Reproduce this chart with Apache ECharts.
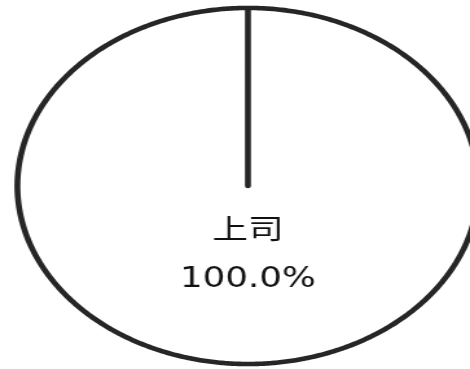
<!DOCTYPE html>
<html>
<head>
<meta charset="utf-8">
<script src="https://cdn.jsdelivr.net/npm/echarts@6/dist/echarts.min.js"></script>
<style>
  html, body { margin: 0; padding: 0; background: #ffffff; overflow: hidden; }
  /* the pie is drawn round and then widened into an ellipse */
  #chart { width: 363px; height: 369px; transform: scaleX(1.2948); transform-origin: 0 0; }
</style>
</head>
<body>
<div id="chart"></div>
<script>
// slice data
const categories = ['上司'];
const values = [100];

const total = values.reduce((a, b) => a + b, 0);
const startDeg = 90;          // first wedge starts at the top, runs counter-clockwise
const labelDistance = 0.255;  // name label, fraction of radius
const pctDistance = 0.525;    // percentage label, fraction of radius

function wedgeAngles(idx) {
  let before = 0;
  for (let i = 0; i < idx; i++) before += values[i];
  const a0 = startDeg + before / total * 360;
  const a1 = a0 + values[idx] / total * 360;
  return [a0, a1];
}

function renderWedge(params, api) {
  const w = api.getWidth(), h = api.getHeight();
  const cx = w * 0.5275, cy = h * 0.504, r = h * 0.4825;
  const idx = params.dataIndex;
  const v = api.value(1);
  const [a0, a1] = wedgeAngles(idx);
  const pt = (deg, rr) => {
    const t = deg * Math.PI / 180;
    return [cx + rr * Math.cos(t), cy - rr * Math.sin(t)];
  };
  // wedge outline: centre -> arc -> back to centre
  const pts = [[cx, cy]];
  const steps = Math.max(2, Math.ceil((a1 - a0) * 2));
  for (let s = 0; s <= steps; s++) pts.push(pt(a0 + (a1 - a0) * s / steps, r));
  const mid = (a0 + a1) / 2;
  const nPos = pt(mid, r * labelDistance);
  const pPos = pt(mid, r * pctDistance);
  const textStyle = {
    fill: '#111111',
    fontSize: 27.5,
    fontFamily: '"DejaVu Sans", "Noto Sans CJK SC", sans-serif',
    align: 'center',
    verticalAlign: 'middle'
  };
  return {
    type: 'group',
    children: [
      {
        type: 'polygon',
        shape: { points: pts },
        style: { fill: '#ffffff', stroke: '#262626', lineWidth: 4.6, lineJoin: 'round' }
      },
      {
        type: 'text',
        x: nPos[0], y: nPos[1],
        style: Object.assign({ text: categories[idx] }, textStyle)
      },
      {
        type: 'text',
        x: pPos[0], y: pPos[1],
        style: Object.assign({ text: (v / total * 100).toFixed(1) + '%' }, textStyle)
      }
    ]
  };
}

const chart = echarts.init(document.getElementById('chart'), null, { renderer: 'canvas' });
chart.setOption({
  animation: false,
  backgroundColor: '#ffffff',
  series: [{
    type: 'custom',
    coordinateSystem: 'none',
    renderItem: renderWedge,
    data: categories.map((c, i) => [i, values[i]])
  }]
});
</script>
</body>
</html>
